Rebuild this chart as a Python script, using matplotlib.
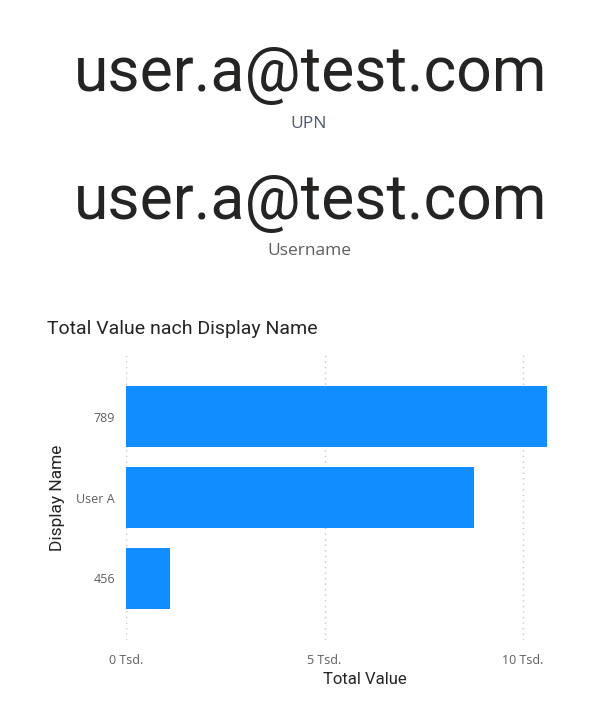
import matplotlib.pyplot as plt
from matplotlib.ticker import FuncFormatter

# card values
card_values = ['user.a@test.com', 'user.a@test.com']
card_labels = ['UPN', 'Username']

# bar chart data
names = ['789', 'User A', '456']
totals = [10600, 8770, 1110]
x_ticks = [0, 5000, 10000]

blue = '#118DFF'
dark = '#252423'
grey = '#605E5C'

fig = plt.figure(figsize=(5.99, 7.14), dpi=100)

# cards
card_y = [0.895, 0.716]
label_y = [0.827, 0.649]
label_cols = ['#4F5B75', grey]
for v, l, cy, ly, lc in zip(card_values, card_labels, card_y, label_y, label_cols):
    fig.text(0.518, cy, v, ha='center', va='center', fontsize=45,
             family='Roboto', color=dark)
    fig.text(0.516, ly, l, ha='center', va='center', fontsize=12.5,
             family='Open Sans', color=lc)

fig.text(0.078, 0.539, 'Total Value nach Display Name', ha='left', va='center',
         fontsize=14, family='Roboto', color=dark)

ax = fig.add_axes([0.2104, 0.1036, 0.7028, 0.3992])
ax.barh(range(len(names)), totals, height=0.75, color=blue, zorder=2)
ax.set_ylim(len(names) - 1 + 0.76, -0.76)
ax.set_xlim(0, 10600)
ax.set_yticks(range(len(names)))
ax.set_yticklabels(names, family='Open Sans', fontsize=9, color=grey)
ax.set_xticks(x_ticks)
ax.xaxis.set_major_formatter(FuncFormatter(lambda v, p: f'{int(v / 1000)} Tsd.'))
for lab in ax.get_xticklabels():
    lab.set_family('Open Sans')
    lab.set_fontsize(9)
    lab.set_color(grey)
ax.tick_params(length=0)
ax.tick_params(axis='y', pad=8)
ax.tick_params(axis='x', pad=10)
ax.grid(axis='x', linestyle=(0, (1, 3)), color='#C8C6C4', linewidth=1, zorder=0)
ax.set_axisbelow(True)
for s in ax.spines.values():
    s.set_visible(False)
ax.set_xlabel('Total Value', family='Roboto', fontsize=12, color=dark)
ax.set_ylabel('Display Name', family='Roboto', fontsize=12.5, color=dark)
ax.xaxis.set_label_coords(0.568, -0.112)
ax.yaxis.set_label_coords(-0.144, 0.5)

fig.savefig('out.png', dpi=100)
